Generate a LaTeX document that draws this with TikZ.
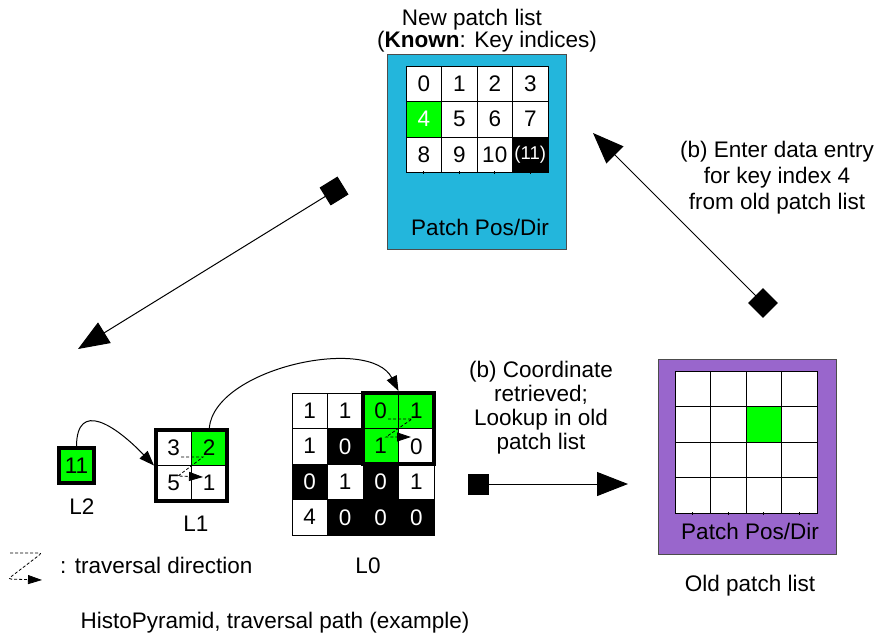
\documentclass[tikz,border=0pt]{standalone}
\usepackage{fontspec}
\setmainfont{Liberation Sans}
\usetikzlibrary{arrows.meta}
\definecolor{patchcyan}{RGB}{35,182,220}
\definecolor{patchpurple}{RGB}{153,102,204}
\definecolor{hgreen}{RGB}{0,255,0}
\begin{document}
\begin{tikzpicture}[x=1pt,y=-1pt, font=\fontsize{22.5}{26}\selectfont,
  cell/.style={draw, line width=1pt, minimum size=35.5pt, inner sep=0pt, fill=white},
  wcell/.style={cell},
  gcell/.style={cell, fill=hgreen},
  gwcell/.style={cell, fill=hgreen, text=white},
  bcell/.style={cell, fill=black, text=white},
  heavyframe/.style={draw, line width=4pt, minimum size=71pt, inner sep=0pt},
  bigtip/.style={arrows={Square[length=21pt,width=21pt]-Triangle[length=31pt,width=24pt]}, line width=1pt},
  curvetip/.style={-{Triangle[length=15pt,width=11pt]}, line width=1pt},
  travel/.style={dash pattern=on 3pt off 2pt, line width=0.8pt, -{Triangle[length=14pt,width=9pt]}},
  tick/.style={line width=0.8pt},
  lbl/.style={anchor=base, inner sep=0pt}
]
\useasboundingbox (0,0) rectangle (877,637);

% ---------- New patch list ----------
\node[draw=black!70, line width=1pt, fill=patchcyan, minimum width=179pt, minimum height=195pt, inner sep=0pt] (newbox) at (476.5,151.5) {};
\foreach \t/\c/\r/\s in {0/0/0/wcell,1/1/0/wcell,2/2/0/wcell,3/3/0/wcell,
                         4/0/1/gwcell,5/1/1/wcell,6/2/1/wcell,7/3/1/wcell,
                         8/0/2/wcell,9/1/2/wcell,10/2/2/wcell}
  \node[\s] (n\t) at ({423.75+35.5*\c},{83.75+35.5*\r}) {\t};
\node[bcell, font=\fontsize{18.5}{20}\selectfont] (n11) at ({423.75+35.5*3},{83.75+35.5*2}) {(11)};
\foreach \c in {0,...,3}
  \draw[tick] ({423.75+35.5*\c},171) -- ++(0,3);
\node[lbl] (newlbl) at (480,235) {Patch Pos/Dir};
\node[lbl] (newtitle) at (472,25) {New patch list};
\node[lbl] (newsub) at (487,47) {(\textbf{Known}: Key indices)};

% ---------- Old patch list ----------
\node[draw=black!70, line width=1pt, fill=patchpurple, minimum width=178pt, minimum height=195pt, inner sep=0pt] (oldbox) at (747,456.5) {};
\foreach \c in {0,...,3}
  \foreach \r in {0,...,3}
    \node[wcell] (o\c\r) at ({692.75+35.5*\c},{388.75+35.5*\r}) {};
\node[gcell] (o21g) at ({692.75+35.5*2},{388.75+35.5*1}) {};
\foreach \c in {0,...,3}
  \draw[tick] ({692.75+35.5*\c},512) -- ++(0,3);
\node[lbl] (oldlbl) at (750,539) {Patch Pos/Dir};
\node[lbl] (oldtitle) at (750,591) {Old patch list};

% ---------- L2 ----------
\node[gcell, line width=4pt, minimum size=35pt] (l2) at (76.5,465.5) {11};
\node[lbl] (l2lbl) at (82,514) {L2};

% ---------- L1 ----------
\node[wcell] (l1a) at (173.75,447.75) {3};
\node[gcell] (l1b) at (209.25,447.75) {2};
\node[wcell] (l1c) at (173.75,483.25) {5};
\node[wcell] (l1d) at (209.25,483.25) {1};
\node[heavyframe] (l1) at (191.5,465.5) {};
\node[lbl] (l1lbl) at (196,531) {L1};

% ---------- L0 ----------
\foreach \t/\c/\r/\s in {1/0/0/wcell,1/1/0/wcell,0/2/0/gcell,1/3/0/gcell,
                         1/0/1/wcell,0/1/1/bcell,1/2/1/gcell,0/3/1/wcell,
                         0/0/2/bcell,1/1/2/wcell,0/2/2/bcell,1/3/2/wcell,
                         4/0/3/wcell,0/1/3/bcell,0/2/3/bcell,0/3/3/bcell}
  \node[\s] (z\c\r) at ({309.75+35.5*\c},{410.75+35.5*\r}) {\t};
\node[heavyframe] (l0f) at (398.5,428.5) {};
\node[lbl] (l0lbl) at (368,573) {L0};

% ---------- traversal curves ----------
\draw[curvetip] (l2.north) .. controls (77,400) and (115,425) .. (l1.west);
\draw[curvetip] (l1b |- l1.north) .. controls (215,368) and (370,335) .. (l0f.north);

% traversal direction marks
\draw[travel] (181,457) -- (203,457) -- (178,476) -- (203,477);
\draw[travel] (388,419) -- (412,419) -- (386,437) -- (411,437);

% ---------- big arrows ----------
\coordinate (a1s) at (343,185.5);
\coordinate (a1e) at (78,349);
\draw[bigtip] (a1s) -- (a1e);
\coordinate (a2s) at (770.4,310.4);
\coordinate (a2e) at (593,133);
\draw[bigtip] (a2s) -- (a2e);
\coordinate (a3s) at (468,484);
\coordinate (a3e) at (628,484);
\draw[bigtip] (a3s) -- (a3e);

\node[align=center, inner sep=0pt] (enter) at (777,178) {(b) Enter data entry\\for key index 4\\from old patch list};
\node[align=center, inner sep=0pt, font=\fontsize{22.5}{24}\selectfont] (coord) at (541,407.6) {(b) Coordinate\\retrieved;\\Lookup in old\\patch list};

% ---------- legend ----------
\draw[travel, rounded corners=3pt] (10,553) -- (42,553) -- (8,579) -- (42,580);
\node[anchor=base west, inner sep=0pt] (legend) at (60,573) {: traversal direction};
\node[lbl] (caption) at (275,628) {HistoPyramid, traversal path (example)};
\end{tikzpicture}
\end{document}
